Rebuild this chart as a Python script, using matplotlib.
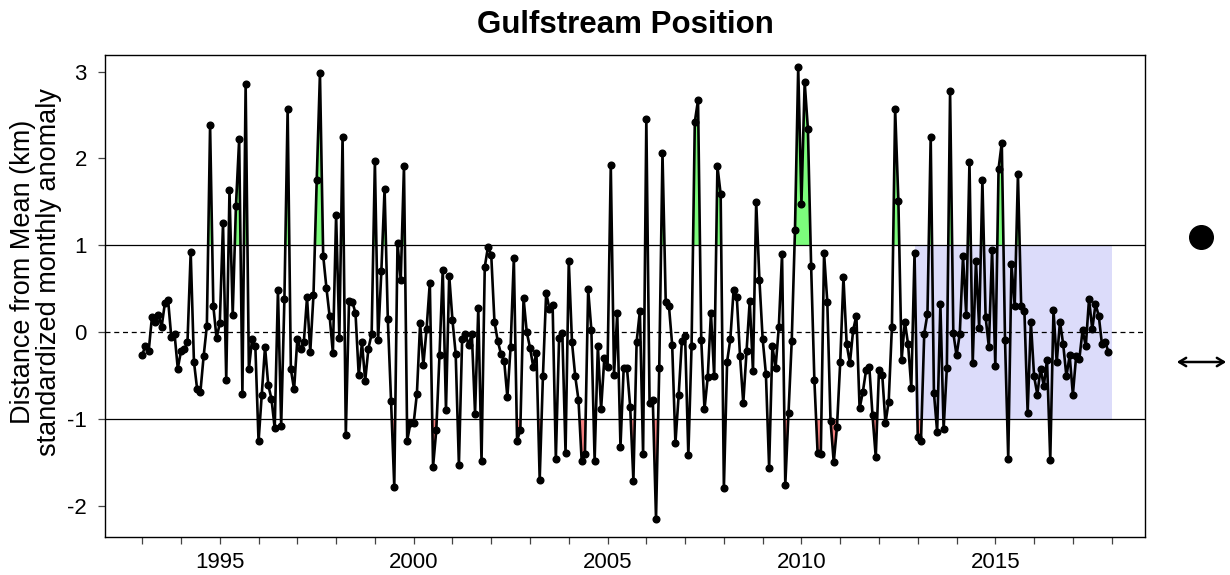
import numpy as np
import matplotlib
matplotlib.use("Agg")
import matplotlib.pyplot as plt
from matplotlib.ticker import FixedLocator

plt.rcParams['font.family'] = ['Liberation Sans', 'DejaVu Sans']

# monthly standardized anomaly, Jan 1993 .. Dec 2017 (one row per year)
start_year = 1993
anom_1993_1997 = [
    -0.26, -0.16, -0.22, 0.17, 0.11, 0.20, 0.06, 0.33, 0.37, -0.06, -0.02, -0.42,
    -0.22, -0.20, -0.12, 0.92, -0.34, -0.66, -0.69, -0.28, 0.07, 2.38, 0.30, -0.07,
    0.10, 1.25, -0.55, 1.63, 0.20, 1.45, 2.22, -0.71, 2.86, -0.43, -0.08, -0.16,
    -1.26, -0.72, -0.17, -0.61, -0.77, -1.11, 0.48, -1.08, 0.38, 2.57, -0.43, -0.66,
    -0.08, -0.20, -0.12, 0.40, -0.23, 0.43, 1.75, 2.98, 0.88, 0.51, 0.18, -0.24,
]
anom_1998_2002 = [
    1.35, -0.07, 2.25, -1.18, 0.36, 0.35, 0.22, -0.50, -0.12, -0.56, -0.19, -0.02,
    1.97, -0.09, 0.70, 1.65, 0.15, -0.79, -1.78, 1.03, 0.60, 1.91, -1.25, -1.05,
    -1.05, -0.71, 0.10, -0.38, 0.04, 0.57, -1.55, -1.13, -0.26, 0.72, -0.90, 0.65,
    0.14, -0.25, -1.53, -0.08, -0.02, -0.15, -0.02, -0.94, 0.28, -1.49, 0.75, 0.98,
    0.89, 0.12, -0.10, -0.25, -0.33, -0.75, -0.17, 0.85, -1.25, -1.13, 0.39, 0.00,
]
anom_2003_2007 = [
    -0.18, -0.40, -0.24, -1.70, -0.51, 0.45, 0.27, 0.31, -1.46, -0.07, -0.01, -1.39,
    0.82, -0.12, -0.51, -0.78, -1.49, -1.41, 0.49, 0.02, -1.48, -0.16, -0.89, -0.30,
    -0.40, 1.92, -0.50, 0.22, -1.32, -0.41, -0.41, -0.86, -1.71, -0.11, 0.24, -1.41,
    2.45, -0.82, -0.78, -2.15, -0.41, 2.06, 0.35, 0.30, -0.15, -1.28, -0.73, -0.10,
    -0.05, -1.42, -0.16, 2.42, 2.67, -0.09, -0.89, -0.52, 0.22, -0.51, 1.91, 1.59,
]
anom_2008_2012 = [
    -1.80, -0.34, -0.08, 0.48, 0.40, -0.28, -0.82, -0.22, 0.36, -0.45, 1.50, 0.60,
    -0.08, -0.48, -1.56, -0.16, -0.41, 0.06, 0.90, -1.76, -0.93, -0.10, 1.17, 3.05,
    1.48, 2.88, 2.34, 0.76, -0.55, -1.39, -1.40, 0.91, 0.35, -1.02, -1.50, -1.09,
    -0.35, 0.63, -0.14, -0.36, 0.02, 0.19, -0.88, -0.69, -0.44, -0.40, -0.96, -1.44,
    -0.44, -0.49, -1.05, -0.80, 0.06, 2.57, 1.51, -0.32, 0.12, -0.14, -0.64, 0.91,
]
anom_2013_2017 = [
    -1.21, -1.25, -0.02, 0.21, 2.25, -0.70, -1.15, 0.32, -1.12, -0.41, 2.77, -0.01,
    -0.27, -0.02, 0.87, 0.20, 1.96, -0.36, 0.82, 0.05, 1.75, 0.17, -0.17, 0.95,
    -0.39, 1.88, 2.18, -0.09, -1.46, 0.78, 0.30, 1.82, 0.30, 0.24, -0.93, 0.12,
    -0.51, -0.72, -0.42, -0.62, -0.32, -1.47, 0.25, -0.35, 0.12, -0.14, -0.51, -0.27,
    -0.72, -0.28, -0.31, 0.02, -0.16, 0.38, 0.03, 0.32, 0.19, -0.14, -0.11, -0.23,
]

# recent-period box
box_start = 2012.92
box_end = 2018.0
box_lo, box_hi = -1, 1

year_ticks = list(range(1993, 2019))
year_labels = [1995, 2000, 2005, 2010, 2015]
y_ticks = [-2, -1, 0, 1, 2, 3]

anom = np.array(anom_1993_1997 + anom_1998_2002 + anom_2003_2007 +
                anom_2008_2012 + anom_2013_2017)
t = start_year + np.arange(len(anom)) / 12.0

fig = plt.figure(figsize=(12.3, 5.75), dpi=100)
ax = fig.add_axes([105/1230, 38/575, 1040/1230, 482/575])

ax.fill_between([box_start, box_end], box_lo, box_hi, color='#DCDCFA', lw=0, zorder=0)

ax.fill_between(t, anom, 1, where=anom > 1, interpolate=True,
                color='#7CFC7C', lw=0, zorder=1)
ax.fill_between(t, anom, -1, where=anom < -1, interpolate=True,
                color='#F47F7F', lw=0, zorder=1)

ax.axhline(1, color='black', lw=0.9, zorder=2)
ax.axhline(-1, color='black', lw=0.9, zorder=2)
ax.axhline(0, color='black', lw=0.9, ls=(0, (4, 3)), zorder=2)

ax.plot(t, anom, color='black', lw=1.9, marker='o', ms=4.8, zorder=3)

ax.set_xlim(1992.04, 2018.86)
ax.set_ylim(-2.36, 3.19)

ax.xaxis.set_major_locator(FixedLocator(year_labels))
ax.xaxis.set_minor_locator(FixedLocator([y for y in year_ticks if y not in year_labels]))
ax.set_xticklabels([str(y) for y in year_labels])
ax.set_yticks(y_ticks)
ax.set_yticklabels([str(v) for v in y_ticks])
ax.tick_params(axis='both', which='both', direction='out', length=5, width=0.9,
               labelsize=16, color='#444444')
ax.tick_params(axis='x', pad=6)
ax.tick_params(axis='y', pad=8)
for s in ax.spines.values():
    s.set_linewidth(1.0)

ax.set_title('Gulfstream Position', fontsize=22.5, fontweight='bold', pad=16)
ax.set_ylabel('Distance from Mean (km)\nstandardized monthly anomaly',
              fontsize=19.5, linespacing=1.0)
ax.yaxis.set_label_coords(-0.041, 0.55)

# right-hand symbols
fig.lines.append(plt.Line2D([1201/1230], [1 - 237/575], transform=fig.transFigure,
                            marker='o', ms=17, color='black', ls='none'))
ax.annotate('', xy=(1229/1230, 1 - 362/575), xytext=(1174/1230, 1 - 362/575),
            xycoords='figure fraction', textcoords='figure fraction',
            arrowprops=dict(arrowstyle='<->,head_length=0.5,head_width=0.3',
                            lw=1.8, color='black'))

fig.savefig('out.png', dpi=100)
